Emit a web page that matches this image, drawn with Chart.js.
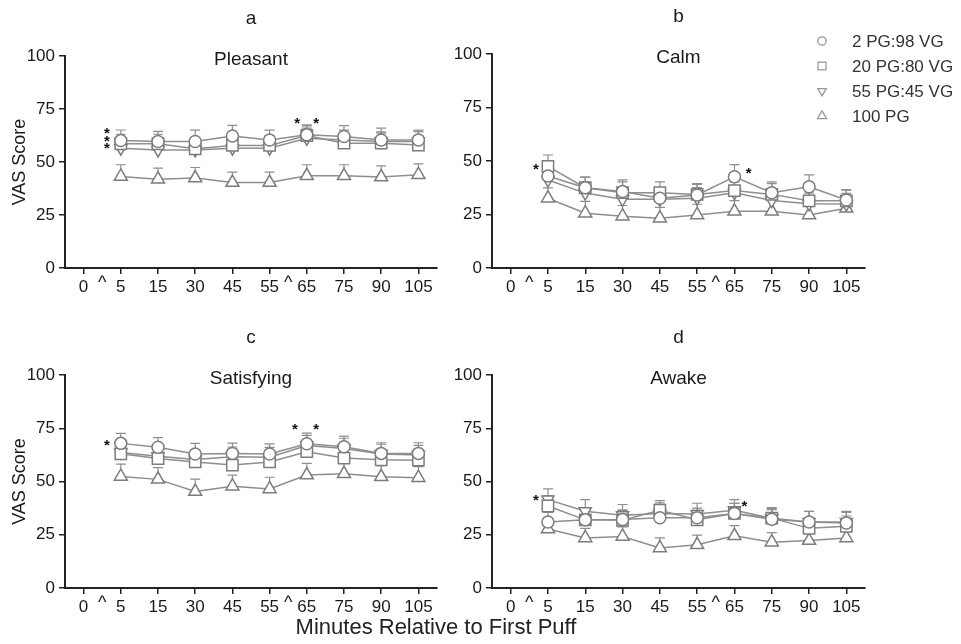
<!DOCTYPE html>
<html>
<head>
<meta charset="utf-8">
<script src="https://cdn.jsdelivr.net/npm/chart.js@4.4.1/dist/chart.umd.min.js"></script>
<style>
  html, body { margin: 0; padding: 0; background: #fff; }
  #wrap { position: relative; width: 961px; height: 644px; overflow: hidden; }
  #wrap canvas { position: absolute; }
  #xtitle {
    position: absolute; left: 186px; width: 500px; top: 614px;
    text-align: center; color: #222;
    font: 22px "Liberation Sans", Arial, sans-serif;
  }
</style>
</head>
<body>
<div id="wrap">
  <canvas id="pa" width="450" height="320" style="left:0;top:0"></canvas>
  <canvas id="pb" width="516" height="320" style="left:445px;top:0"></canvas>
  <canvas id="pc" width="450" height="324" style="left:0;top:320px"></canvas>
  <canvas id="pd" width="516" height="324" style="left:445px;top:320px"></canvas>
  <div id="xtitle">Minutes Relative to First Puff</div>
</div>
<script>
// ---- data ----
const minutes = ['0', '5', '15', '30', '45', '55', '65', '75', '90', '105'];
const groups = ['2 PG:98 VG', '20 PG:80 VG', '55 PG:45 VG', '100 PG'];
const yTicks = [0, 25, 50, 75, 100];

// a - Pleasant
const pleasant2   = [60.1, 59.7, 59.7, 62.3, 60.4, 62.8, 62.0, 60.4, 60.4];
const pleasant20  = [58.6, 58.6, 56.2, 57.8, 57.8, 62.5, 58.9, 58.9, 58.0];
const pleasant55  = [56.5, 55.7, 55.7, 56.5, 56.5, 61.2, 60.4, 59.7, 59.7];
const pleasant100 = [43.2, 41.9, 42.4, 40.3, 40.3, 43.5, 43.5, 42.9, 44.0];
const pleasantErr2   = [5.0, 4.7, 5.3, 5.0, 4.6, 4.7, 5.2, 5.6, 4.6];
const pleasantErr20  = [4.5, 4.5, 4.8, 4.5, 4.6, 4.5, 4.8, 4.7, 4.5];
const pleasantErr55  = [4.6, 4.6, 4.5, 4.6, 4.5, 4.8, 4.6, 4.5, 4.6];
const pleasantErr100 = [5.5, 5.2, 5.0, 4.9, 4.9, 5.2, 5.2, 5.3, 5.1];

// b - Calm
const calm2   = [43.0, 37.5, 35.7, 32.6, 34.1, 42.6, 35.2, 38.0, 31.8];
const calm20  = [47.5, 37.5, 35.2, 35.2, 34.4, 36.2, 34.4, 31.4, 31.4];
const calm55  = [41.1, 35.0, 32.1, 32.1, 32.6, 35.2, 31.5, 30.0, 29.9];
const calm100 = [32.6, 25.6, 24.2, 23.3, 24.8, 26.5, 26.5, 24.8, 27.9];
const calmErr2   = [5.0, 5.0, 5.5, 5.0, 5.0, 5.7, 5.0, 5.5, 4.8];
const calmErr20  = [5.3, 5.0, 5.0, 5.0, 5.0, 5.0, 5.0, 5.0, 5.0];
const calmErr55  = [5.0, 5.0, 5.0, 5.0, 5.0, 5.0, 5.0, 5.0, 5.0];
const calmErr100 = [4.8, 5.5, 5.0, 5.0, 5.0, 5.0, 5.0, 5.0, 5.0];

// c - Satisfying
const satisfying2   = [67.9, 66.1, 62.9, 63.2, 62.9, 67.7, 66.3, 63.2, 63.2];
const satisfying20  = [63.0, 60.8, 59.2, 57.7, 59.2, 64.0, 61.0, 60.2, 60.0];
const satisfying55  = [63.6, 61.9, 60.3, 61.6, 61.4, 66.9, 65.5, 62.9, 62.4];
const satisfying100 = [52.4, 51.0, 45.3, 47.8, 46.5, 53.0, 53.6, 52.2, 51.8];
const satisfyingErr2   = [4.7, 4.5, 5.0, 4.8, 4.8, 5.0, 5.0, 5.0, 5.0];
const satisfyingErr20  = [4.5, 4.5, 4.5, 4.5, 4.5, 4.5, 4.5, 4.5, 4.5];
const satisfyingErr55  = [4.6, 4.6, 4.6, 4.6, 4.6, 4.8, 4.8, 4.6, 4.6];
const satisfyingErr100 = [5.8, 5.5, 5.8, 5.2, 5.5, 5.5, 5.0, 5.2, 5.2];

// d - Awake
const awake2   = [31.0, 32.0, 32.2, 33.0, 33.0, 35.0, 32.3, 31.0, 30.5];
const awake20  = [38.5, 32.0, 31.8, 36.5, 32.0, 35.0, 32.8, 28.0, 29.0];
const awake55  = [41.5, 36.0, 34.2, 35.0, 34.8, 36.5, 32.8, 31.0, 31.0];
const awake100 = [27.7, 23.5, 24.2, 18.8, 20.3, 24.5, 21.5, 22.3, 23.5];
const awakeErr2   = [4.5, 4.5, 4.5, 4.5, 4.5, 4.8, 4.5, 5.0, 5.0];
const awakeErr20  = [4.8, 4.5, 4.5, 4.5, 4.5, 4.8, 4.5, 4.8, 4.8];
const awakeErr55  = [5.0, 5.5, 5.0, 5.0, 5.0, 5.0, 5.0, 5.0, 5.0];
const awakeErr100 = [4.0, 4.5, 4.5, 4.7, 4.5, 4.8, 4.5, 4.5, 4.5];

// significance stars: category position (fractional index) and value
const starsA = { at: [0.63, 0.63, 0.63, 5.74, 6.25], val: [64, 60.5, 57, 69, 69] };
const starsB = { at: [0.68, 6.38], val: [46.5, 45] };
const starsC = { at: [0.63, 5.68, 6.25], val: [67.5, 75, 75] };
const starsD = { at: [0.68, 6.27], val: [42, 39] };
const caretAt = [0.5, 5.5];

// ---- styling ----
const FONT = '"Liberation Sans", Arial, sans-serif';
Chart.defaults.font.family = FONT;
Chart.defaults.color = '#1a1a1a';

const LINE = '#8e8e8e';
const MARK = '#7c7c7c';
const shapes = [
  { pointStyle: 'circle',   rotation: 0,   radius: 6 },
  { pointStyle: 'rect',     rotation: 0,   radius: 8 },
  { pointStyle: 'triangle', rotation: 180, radius: 7 },
  { pointStyle: 'triangle', rotation: 0,   radius: 7.5 }
];

function makeDatasets(series, errs) {
  return series.map((vals, i) => ({
    label: groups[i],
    data: [null].concat(vals),
    errors: [null].concat(errs[i]),
    borderColor: LINE,
    borderWidth: 1.5,
    pointStyle: shapes[i].pointStyle,
    pointRotation: shapes[i].rotation,
    pointRadius: shapes[i].radius,
    pointBackgroundColor: '#fff',
    pointBorderColor: MARK,
    pointBorderWidth: 1.5,
    tension: 0
  }));
}

function extras(p) {
  return {
    id: 'panelExtras',
    beforeDatasetsDraw(chart) {
      // upward SEM bars
      const ctx = chart.ctx, ys = chart.scales.y;
      ctx.save();
      ctx.strokeStyle = LINE;
      ctx.lineWidth = 1.2;
      chart.data.datasets.forEach((ds, di) => {
        const meta = chart.getDatasetMeta(di);
        ds.data.forEach((v, i) => {
          if (v == null) return;
          const px = meta.data[i].x;
          const y0 = ys.getPixelForValue(v);
          const y1 = ys.getPixelForValue(v + ds.errors[i]);
          ctx.beginPath();
          ctx.moveTo(px, y0); ctx.lineTo(px, y1);
          ctx.moveTo(px - 5, y1); ctx.lineTo(px + 5, y1);
          ctx.stroke();
        });
      });
      ctx.restore();
    },
    afterDraw(chart) {
      const ctx = chart.ctx, xs = chart.scales.x, ys = chart.scales.y;
      const area = chart.chartArea;
      const cx = (area.left + area.right) / 2;
      ctx.save();
      ctx.fillStyle = '#1a1a1a';
      ctx.textAlign = 'center';
      ctx.textBaseline = 'middle';
      ctx.font = '19px ' + FONT;
      ctx.fillText(p.letter, cx, area.top - 37);
      ctx.fillText(p.name, cx, area.top + 4);

      // carets between ticks
      ctx.font = '18px ' + FONT;
      ctx.textBaseline = 'alphabetic';
      caretAt.forEach(c => ctx.fillText('^', xs.getPixelForValue(c), area.bottom + 20));

      // stars
      ctx.font = 'bold 15px ' + FONT;
      ctx.fillStyle = '#111';
      p.stars.at.forEach((c, i) => {
        ctx.fillText('*', xs.getPixelForValue(c), ys.getPixelForValue(p.stars.val[i]) + 6);
      });

      // legend
      if (p.legend) {
        const lx = p.legend.x, ly = p.legend.y;
        ctx.font = '17px ' + FONT;
        ctx.textAlign = 'left';
        ctx.textBaseline = 'middle';
        groups.forEach((g, i) => {
          const yy = ly + i * 25;
          ctx.fillStyle = '#fff';
          ctx.strokeStyle = '#999';
          ctx.lineWidth = 1.3;
          Chart.helpers.drawPoint(ctx, {
            pointStyle: shapes[i].pointStyle,
            rotation: shapes[i].rotation,
            radius: shapes[i].radius * 0.7,
            borderWidth: 1.3
          }, lx, yy);
          ctx.fillStyle = '#333';
          ctx.fillText(g, lx + 30, yy + 1);
        });
      }
      ctx.restore();
    }
  };
}

function makePanel(id, p) {
  const canvas = document.getElementById(id);
  const W = canvas.width, H = canvas.height;
  new Chart(canvas, {
    type: 'line',
    data: { labels: minutes, datasets: makeDatasets(p.series, p.errs) },
    options: {
      responsive: false,
      animation: false,
      layout: {
        padding: { top: p.area.top, left: 0, right: W - p.area.right, bottom: H - p.area.bottom - 40 }
      },
      plugins: { legend: { display: false }, tooltip: { enabled: false } },
      scales: {
        x: {
          type: 'category',
          offset: true,
          afterFit: s => { s.height = 40; },
          border: { display: true, color: '#222', width: 2 },
          grid: { drawOnChartArea: false, drawTicks: true, tickLength: 6, color: '#222', lineWidth: 1.5 },
          ticks: { font: { size: 17 }, color: '#1a1a1a', maxRotation: 0, autoSkip: false, padding: 3 }
        },
        y: {
          min: 0, max: 100,
          afterFit: s => { s.width = p.area.left; },
          afterBuildTicks: s => { s.ticks = yTicks.map(v => ({ value: v })); },
          border: { display: true, color: '#222', width: 2 },
          grid: { drawOnChartArea: false, drawTicks: true, tickLength: 6, color: '#222', lineWidth: 1.5 },
          ticks: { font: { size: 17 }, color: '#1a1a1a', padding: 4 },
          title: {
            display: !!p.yTitle, text: p.yTitle || '',
            font: { size: 18 }, color: '#1a1a1a', padding: { top: 9, bottom: 0 }
          }
        }
      }
    },
    plugins: [extras(p)]
  });
}

makePanel('pa', {
  letter: 'a', name: 'Pleasant', yTitle: 'VAS Score',
  area: { left: 65, right: 437, top: 56, bottom: 268 },
  series: [pleasant2, pleasant20, pleasant55, pleasant100],
  errs: [pleasantErr2, pleasantErr20, pleasantErr55, pleasantErr100],
  stars: starsA
});
makePanel('pb', {
  letter: 'b', name: 'Calm',
  area: { left: 47, right: 420, top: 54, bottom: 268 },
  series: [calm2, calm20, calm55, calm100],
  errs: [calmErr2, calmErr20, calmErr55, calmErr100],
  stars: starsB,
  legend: { x: 377, y: 41 }
});
makePanel('pc', {
  letter: 'c', name: 'Satisfying', yTitle: 'VAS Score',
  area: { left: 65, right: 437, top: 55, bottom: 268 },
  series: [satisfying2, satisfying20, satisfying55, satisfying100],
  errs: [satisfyingErr2, satisfyingErr20, satisfyingErr55, satisfyingErr100],
  stars: starsC
});
makePanel('pd', {
  letter: 'd', name: 'Awake',
  area: { left: 47, right: 420, top: 55, bottom: 268 },
  series: [awake2, awake20, awake55, awake100],
  errs: [awakeErr2, awakeErr20, awakeErr55, awakeErr100],
  stars: starsD
});
</script>
</body>
</html>
